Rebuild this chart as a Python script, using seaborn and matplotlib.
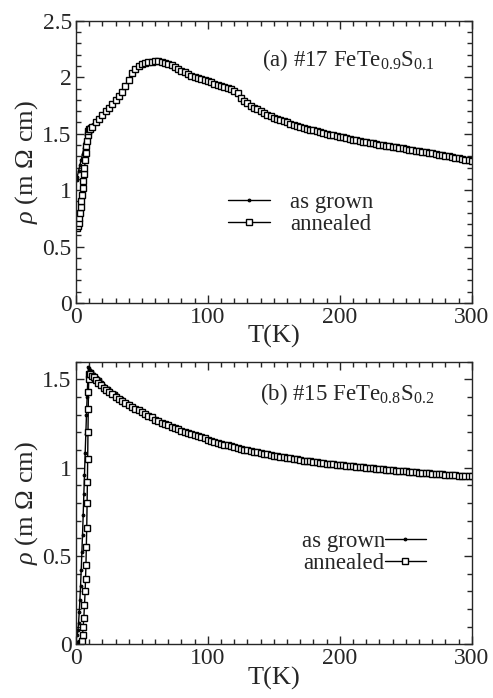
import numpy as np
import pandas as pd
import seaborn as sns
import matplotlib.pyplot as plt
from matplotlib.ticker import MultipleLocator

# ---- panel (a): #17 FeTe0.9S0.1 ----
t_a_grown = [0.5, 1, 2, 3, 4, 5, 6, 7, 8, 9, 10, 12, 15, 20, 25, 30, 35, 40,
             45, 50, 55, 60, 65, 70, 80, 90, 100, 110, 120, 125, 130, 140,
             150, 175, 200, 225, 250, 275, 300]
rho_a_grown = [1.09, 1.12, 1.17, 1.22, 1.27, 1.32, 1.37, 1.43, 1.49, 1.55,
               1.565, 1.58, 1.61, 1.67, 1.735, 1.805, 1.875, 1.985, 2.08,
               2.12, 2.14, 2.148, 2.142, 2.122, 2.062, 2.007, 1.967, 1.927,
               1.882, 1.822, 1.772, 1.702, 1.642, 1.547, 1.476, 1.416, 1.367,
               1.317, 1.259]

t_a_ann = [1, 1.5, 2, 2.5, 3, 3.5, 4, 4.5, 5, 5.5, 6, 6.5, 7, 7.5, 8, 8.5, 9,
           9.5, 10, 11, 12.5, 15, 17.5, 20, 22.5, 25, 27.5, 30, 32.5, 35,
           37.5, 40, 42.5, 45, 47.5, 50, 52.5, 55, 57.5, 60, 62.5, 65, 67.5,
           70, 72.5, 75, 77.5, 80, 82.5, 85, 87.5, 90, 92.5, 95, 97.5, 100,
           102.5, 105, 107.5, 110, 112.5, 115, 117.5, 120, 122.5, 125, 127.5,
           130, 132.5, 135, 137.5, 140, 142.5, 145, 147.5, 150, 152.5, 155,
           157.5, 160, 162.5, 165, 167.5, 170, 172.5, 175, 177.5, 180, 182.5,
           185, 187.5, 190, 192.5, 195, 197.5, 200, 202.5, 205, 207.5, 210,
           212.5, 215, 217.5, 220, 222.5, 225, 227.5, 230, 232.5, 235, 237.5,
           240, 242.5, 245, 247.5, 250, 252.5, 255, 257.5, 260, 262.5, 265,
           267.5, 270, 272.5, 275, 277.5, 280, 282.5, 285, 287.5, 290, 292.5,
           295, 297.5, 300]
rho_a_ann = [0.66, 0.68, 0.71, 0.75, 0.80, 0.85, 0.90, 0.96, 1.02, 1.08, 1.14,
             1.20, 1.27, 1.33, 1.39, 1.44, 1.49, 1.52, 1.54, 1.545, 1.56, 1.60,
             1.635, 1.665, 1.70, 1.73, 1.765, 1.80, 1.835, 1.87, 1.92, 1.98,
             2.04, 2.075, 2.10, 2.115, 2.125, 2.135, 2.14, 2.145, 2.145, 2.14,
             2.13, 2.12, 2.105, 2.09, 2.075, 2.06, 2.045, 2.03, 2.015, 2.005,
             1.995, 1.985, 1.975, 1.965, 1.955, 1.945, 1.935, 1.925, 1.915,
             1.905, 1.895, 1.88, 1.86, 1.82, 1.79, 1.77, 1.75, 1.73, 1.715,
             1.70, 1.685, 1.67, 1.655, 1.64, 1.63, 1.62, 1.61, 1.60, 1.59,
             1.58, 1.57, 1.56, 1.552, 1.545, 1.537, 1.53, 1.522, 1.515, 1.507,
             1.50, 1.493, 1.487, 1.48, 1.474, 1.467, 1.46, 1.454, 1.448, 1.442,
             1.436, 1.43, 1.425, 1.42, 1.414, 1.408, 1.403, 1.398, 1.393,
             1.388, 1.383, 1.378, 1.374, 1.37, 1.365, 1.36, 1.355, 1.35, 1.345,
             1.34, 1.335, 1.33, 1.325, 1.32, 1.315, 1.31, 1.305, 1.30, 1.294,
             1.288, 1.282, 1.276, 1.27, 1.263, 1.257]

# ---- panel (b): #15 FeTe0.8S0.2 ----
t_b_grown = [1, 1.5, 2, 2.5, 3, 3.5, 4, 4.5, 5, 5.5, 6, 6.5, 7, 7.5, 8, 8.5,
             9, 9.5, 10, 11, 12, 14, 16, 18, 20, 25, 30, 35, 40, 45, 50, 55,
             60, 70, 80, 90, 100, 120, 140, 160, 180, 200, 225, 250, 275, 300]
rho_b_grown = [0.05, 0.08, 0.12, 0.18, 0.25, 0.33, 0.42, 0.52, 0.62, 0.73,
               0.85, 0.96, 1.08, 1.19, 1.30, 1.40, 1.50, 1.57, 1.565, 1.555,
               1.545, 1.53, 1.515, 1.50, 1.485, 1.45, 1.42, 1.392, 1.368,
               1.345, 1.325, 1.304, 1.283, 1.247, 1.215, 1.188, 1.162, 1.118,
               1.084, 1.057, 1.034, 1.016, 0.996, 0.979, 0.964, 0.951]

t_b_ann = [2, 2.5, 3, 3.5, 4, 4.5, 5, 5.5, 6, 6.5, 7, 7.3, 7.6, 7.9, 8.2, 8.5,
           8.7, 8.9, 9.1, 9.3, 9.5, 9.7, 9.9, 11, 12, 13.5, 15, 17, 19, 21,
           23, 25, 27.5, 30, 32.5, 35, 37.5, 40, 42.5, 45, 47.5, 50, 52.5, 55,
           57.5, 60, 62.5, 65, 67.5, 70, 72.5, 75, 77.5, 80, 82.5, 85, 87.5,
           90, 92.5, 95, 97.5, 100, 102.5, 105, 107.5, 110, 112.5, 115, 117.5,
           120, 122.5, 125, 127.5, 130, 132.5, 135, 137.5, 140, 142.5, 145,
           147.5, 150, 152.5, 155, 157.5, 160, 162.5, 165, 167.5, 170, 172.5,
           175, 177.5, 180, 182.5, 185, 187.5, 190, 192.5, 195, 197.5, 200,
           202.5, 205, 207.5, 210, 212.5, 215, 217.5, 220, 222.5, 225, 227.5,
           230, 232.5, 235, 237.5, 240, 242.5, 245, 247.5, 250, 252.5, 255,
           257.5, 260, 262.5, 265, 267.5, 270, 272.5, 275, 277.5, 280, 282.5,
           285, 287.5, 290, 292.5, 295, 297.5, 300]
rho_b_ann = [0.0, 0.0, 0.0, 0.0, 0.005, 0.02, 0.05, 0.10, 0.15, 0.22, 0.30,
             0.37, 0.45, 0.55, 0.66, 0.80, 0.92, 1.05, 1.20, 1.33, 1.43, 1.50,
             1.53, 1.53, 1.52, 1.51, 1.495, 1.48, 1.465, 1.45, 1.44, 1.43,
             1.415, 1.40, 1.39, 1.377, 1.366, 1.355, 1.344, 1.334, 1.324,
             1.314, 1.304, 1.294, 1.284, 1.272, 1.263, 1.255, 1.247, 1.239,
             1.231, 1.223, 1.216, 1.209, 1.203, 1.196, 1.19, 1.183, 1.177,
             1.171, 1.165, 1.158, 1.152, 1.146, 1.14, 1.135, 1.13, 1.125, 1.12,
             1.115, 1.111, 1.107, 1.102, 1.098, 1.094, 1.09, 1.086, 1.082,
             1.078, 1.074, 1.07, 1.067, 1.064, 1.061, 1.058, 1.055, 1.052,
             1.049, 1.046, 1.043, 1.04, 1.037, 1.035, 1.032, 1.03, 1.028,
             1.025, 1.023, 1.021, 1.019, 1.017, 1.015, 1.013, 1.011, 1.009,
             1.007, 1.005, 1.003, 1.001, 0.999, 0.997, 0.995, 0.993, 0.991,
             0.99, 0.988, 0.986, 0.984, 0.983, 0.981, 0.979, 0.978, 0.976,
             0.975, 0.973, 0.972, 0.97, 0.969, 0.967, 0.966, 0.964, 0.963,
             0.961, 0.96, 0.958, 0.957, 0.956, 0.955, 0.953, 0.952, 0.951,
             0.95]

labels = ["as grown", "annealed"]
titles = ["(a) #17 FeTe$_{0.9}$S$_{0.1}$", "(b) #15 FeTe$_{0.8}$S$_{0.2}$"]

sns.set_style("ticks")
plt.rcParams['font.family'] = ['Liberation Serif', 'DejaVu Serif']
plt.rcParams['mathtext.fontset'] = 'custom'
plt.rcParams['mathtext.rm'] = 'Liberation Serif'
plt.rcParams['mathtext.it'] = 'Liberation Serif:italic'
plt.rcParams['axes.linewidth'] = 1.0

fig = plt.figure(figsize=(4.93, 6.98), dpi=100)
ax1 = fig.add_axes([0.154, 0.566, 0.803, 0.404])
ax2 = fig.add_axes([0.154, 0.077, 0.803, 0.405])


def draw(ax, tg, rg, ta, ra):
    sns.lineplot(x=tg, y=rg, ax=ax, sort=False, estimator=None, color="black",
                 lw=1.0, marker="o", markersize=2, mec="black",
                 label=labels[0])
    sns.lineplot(x=ta, y=ra, ax=ax, sort=False, estimator=None, color="black",
                 lw=1.0, marker="s", markersize=4.8, mfc="white", mec="black",
                 mew=1.0, label=labels[1])


draw(ax1, t_a_grown, rho_a_grown, t_a_ann, rho_a_ann)
draw(ax2, t_b_grown, rho_b_grown, t_b_ann, rho_b_ann)

ax1.set_ylim(0, 2.5)
ax2.set_ylim(0, 1.6)
for ax in (ax1, ax2):
    ax.set_xlim(0, 300)
    ax.xaxis.set_major_locator(MultipleLocator(100))
    ax.xaxis.set_minor_locator(MultipleLocator(10))
    ax.yaxis.set_major_locator(MultipleLocator(0.5))
    ax.yaxis.set_minor_locator(MultipleLocator(0.1))
    ax.tick_params(which="both", direction="in", top=True, right=True,
                   labelsize=17, width=1.0, pad=3)
    ax.tick_params(which="major", length=6)
    ax.tick_params(which="minor", length=3.5)
    ax.set_xlabel("T(K)", fontsize=19, labelpad=-2)
    ax.set_ylabel(r"$\rho$ (m Ω cm)", fontsize=19, labelpad=2)
    ax.yaxis.set_major_formatter(plt.FuncFormatter(lambda v, p: f"{v:g}"))

ax1.text(0.47, 0.86, titles[0], transform=ax1.transAxes, fontsize=16.5,
         ha="left", va="center")
ax2.text(0.465, 0.885, titles[1], transform=ax2.transAxes, fontsize=16.5,
         ha="left", va="center")

ax1.legend(loc="upper left", bbox_to_anchor=(0.385, 0.395), frameon=False,
           fontsize=16.5, handlelength=1.8, handletextpad=0.9,
           labelspacing=0.05, borderpad=0, borderaxespad=0)
ax2.legend(loc="upper left", bbox_to_anchor=(0.57, 0.40), frameon=False,
           fontsize=16.5, handlelength=1.8, handletextpad=0.0,
           labelspacing=0.05, borderpad=0, borderaxespad=0, markerfirst=False)

plt.savefig("out.png", dpi=100)
